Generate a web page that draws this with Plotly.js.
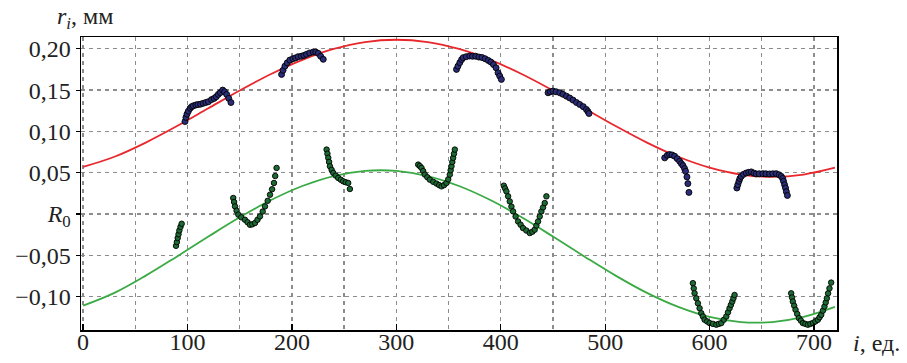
<!DOCTYPE html>
<html>
<head>
<meta charset="utf-8">
<script src="https://cdn.plot.ly/plotly-3.0.1.min.js"></script>
<style>html,body{margin:0;padding:0;background:#fff;}#chart{width:907px;height:363px;}</style>
</head>
<body>
<div id="chart"></div>
<script>
// Fitted curves
const curveX = [0,30,60,90,120,150,180,210,240,270,300,330,360,390,420,450,480,510,540,570,600,630,660,690,720];
const redCurveY = [0.057,0.0693,0.0865,0.1065,0.128,0.1495,0.1695,0.1867,0.1999,0.2082,0.211,0.2082,0.1999,0.1867,0.1695,0.1495,0.128,0.1065,0.0865,0.0693,0.0561,0.0478,0.045,0.0478,0.0561];
const greenCurveY = [-0.111,-0.0955,-0.0746,-0.0513,-0.0273,-0.004,0.0169,0.0339,0.046,0.0522,0.0522,0.046,0.0339,0.0169,-0.004,-0.0273,-0.0513,-0.0746,-0.0955,-0.1125,-0.1246,-0.1308,-0.1308,-0.1246,-0.1125];

// Measured points, upper series (blue)
const blueX = [97.6,98.5,99.5,100.8,102.5,104,105.6,108,110,112.5,115,117.5,120,123,125.5,127.5,129.5,131.5,133.7,135.5,137.5,139.5,141.6,
  190.1,191.5,193.3,195.5,198,201,203.5,206,209,211.5,214,217,220.4,222.8,225.2,227.5,230,
  357.6,359,360.8,362.5,364,367,370.3,373,376,379,382,385,388,390.5,393,395.5,397.4,399,400.6,
  445.3,447.5,450,453,456.5,459.5,462.9,466,469.2,472.5,475.6,479,482,483.5,484.5,
  557,559.5,561.7,564,566.5,569,571.3,573,574.5,576,577,578.3,579.2,580.2,
  626.1,627,628.1,629,630.3,632.5,635.1,637.5,639.9,642.5,644.7,647.5,651,654,657.4,660.5,663.8,666.5,668.6,670,670.8,671.8,672.7,673.5,674.5];
const blueY = [0.112,0.117,0.121,0.1245,0.128,0.130,0.131,0.132,0.1325,0.133,0.134,0.135,0.136,0.1385,0.140,0.142,0.1448,0.147,0.150,0.148,0.1448,0.140,0.135,
  0.169,0.174,0.179,0.183,0.1864,0.188,0.189,0.1905,0.191,0.192,0.1933,0.195,0.1961,0.196,0.1945,0.191,0.1873,
  0.1751,0.179,0.1833,0.187,0.1893,0.1905,0.1913,0.191,0.191,0.190,0.1895,0.188,0.186,0.184,0.181,0.177,0.171,0.167,0.163,
  0.1468,0.148,0.1488,0.148,0.1468,0.145,0.1427,0.1405,0.1379,0.135,0.1326,0.130,0.1266,0.124,0.1217,
  0.068,0.071,0.072,0.0715,0.070,0.067,0.0638,0.061,0.0586,0.055,0.0517,0.0449,0.0368,0.0262,
  0.0315,0.0355,0.0396,0.043,0.0456,0.048,0.0497,0.0505,0.051,0.0495,0.0485,0.0487,0.0489,0.0487,0.0485,0.0487,0.0489,0.0475,0.0456,0.043,0.0396,0.0355,0.0315,0.027,0.0225];

// Measured points, lower series (green)
const greenX = [89,89.8,90.6,91.4,92.2,93.3,94.4,
  143.8,144.6,145.5,147,148.7,151.5,155,157.5,159.8,162,164.6,167,169.4,172,174.2,176.8,179,181,182.8,184,185.3,
  233.2,234,234.8,235.6,236.4,238,239.6,242,244.3,246.8,249.1,251.5,253.9,255.5,
  320.9,322.5,324.1,325.7,327.3,329.7,332.1,335.3,338.5,341,343.3,345.7,348,349.7,351.2,352,352.8,353.6,354.4,355.2,356,
  402.9,404.1,405.4,407,408.6,410.2,411.8,414.2,416.6,419,421.3,424.5,427.8,430.2,432.5,434.1,435.7,437.3,438.9,440.5,442.1,443.7,
  584,584.8,585.6,587.2,588.8,590.4,592,593.6,595.2,597.6,600,603.2,606.4,608.8,611.2,613.6,616,617.6,619.1,620.4,621.7,622.8,623.9,
  678.1,678.9,679.7,681,682.3,683.9,685.5,687.4,689.3,691.7,694.1,696.5,698.9,701.3,703.7,705.3,706.9,708.5,710,711.2,712.3,713.5,714.8,716.4];
const greenY = [-0.0385,-0.034,-0.029,-0.0245,-0.0199,-0.0155,-0.0118,
  0.0194,0.0145,0.0092,0.004,-0.0008,-0.004,-0.0069,-0.010,-0.013,-0.0125,-0.0109,-0.007,-0.0029,0.003,0.0092,0.016,0.0234,0.030,0.0376,0.046,0.0558,
  0.078,0.073,0.068,0.063,0.0578,0.0535,0.0498,0.0465,0.0437,0.0415,0.0396,0.0385,0.0376,0.0303,
  0.0598,0.058,0.0558,0.052,0.0477,0.0445,0.0416,0.039,0.0368,0.035,0.0335,0.035,0.0376,0.042,0.0477,0.053,0.0578,0.063,0.068,0.073,0.078,
  0.0343,0.031,0.0274,0.0215,0.0153,0.009,0.0032,-0.003,-0.009,-0.013,-0.017,-0.020,-0.023,-0.0215,-0.019,-0.014,-0.009,-0.003,0.0032,0.008,0.0133,0.0214,
  -0.0837,-0.090,-0.0959,-0.102,-0.108,-0.114,-0.120,-0.124,-0.128,-0.130,-0.132,-0.133,-0.134,-0.133,-0.132,-0.128,-0.124,-0.119,-0.114,-0.110,-0.106,-0.102,-0.098,
  -0.096,-0.101,-0.106,-0.111,-0.116,-0.121,-0.126,-0.129,-0.132,-0.133,-0.134,-0.133,-0.132,-0.130,-0.128,-0.125,-0.122,-0.117,-0.112,-0.107,-0.102,-0.096,-0.090,-0.083];

const xTickVals = [0,100,200,300,400,500,600,700];
const xTickText = ["0","100","200","300","400","500","600","700"];
const yTickVals = [-0.10,-0.05,0,0.05,0.10,0.15,0.20];
const yTickText = ["\u22120,10","\u22120,05","<i>R</i><sub>0</sub>","0,05","0,10","0,15","0,20"];

const FONT = "'Liberation Serif', 'DejaVu Serif', serif";

const traces = [
  {x: curveX, y: redCurveY, mode: 'lines', line: {color: '#e8282c', width: 1.8, shape: 'spline'}, hoverinfo: 'skip'},
  {x: curveX, y: greenCurveY, mode: 'lines', line: {color: '#3aaa44', width: 1.8, shape: 'spline'}, hoverinfo: 'skip'},
  {x: blueX, y: blueY, mode: 'markers', marker: {color: '#2b2d78', size: 6, line: {color: '#000', width: 0.9}}},
  {x: greenX, y: greenY, mode: 'markers', marker: {color: '#1d6b34', size: 5.5, line: {color: '#000', width: 0.9}}}
];

const gridCol = '#8c8c8c';
const layout = {
  width: 907, height: 363,
  margin: {l: 81, r: 70, t: 37, b: 33, pad: 0},
  paper_bgcolor: '#fff', plot_bgcolor: '#fff',
  showlegend: false,
  font: {family: FONT, size: 24, color: '#222'},
  xaxis: {
    range: [-2, 722], tickmode: 'array', tickvals: xTickVals, ticktext: xTickText,
    showgrid: true, gridcolor: gridCol, gridwidth: 1.3, griddash: '4px,4px',
    minor: {dtick: 50, tick0: 0, showgrid: true, gridcolor: gridCol, gridwidth: 1.3, griddash: '4px,4px', ticks: ''},
    zeroline: false, showline: true, linecolor: '#000', linewidth: 1.5, mirror: true,
    ticks: 'inside', ticklen: 6, tickcolor: '#000', tickwidth: 1.2,
    ticklabelstandoff: -10,
    tickfont: {family: FONT, size: 24, color: '#222'}
  },
  yaxis: {
    range: [-0.1404, 0.2143], tickmode: 'array', tickvals: yTickVals, ticktext: yTickText,
    showgrid: true, gridcolor: gridCol, gridwidth: 1.3, griddash: '4px,4px',
    zeroline: false, showline: true, linecolor: '#000', linewidth: 1.5, mirror: true,
    ticks: 'outside', ticklen: 4, tickcolor: '#000', tickwidth: 1.2,
    tickfont: {family: FONT, size: 24, color: '#222'}
  },
  annotations: [
    {xref: 'paper', yref: 'paper', x: -0.0344, y: 1.065, xanchor: 'left', yanchor: 'middle', showarrow: false,
     text: "<i>r<sub>i</sub></i>, мм", font: {family: FONT, size: 24, color: '#222'}},
    {xref: 'paper', yref: 'paper', x: 1.0185, y: -0.045, xanchor: 'left', yanchor: 'middle', showarrow: false,
     text: "<i>i</i>, ед.", font: {family: FONT, size: 24, color: '#222'}}
  ]
};

Plotly.newPlot('chart', traces, layout, {staticPlot: true, displayModeBar: false});
</script>
</body>
</html>
